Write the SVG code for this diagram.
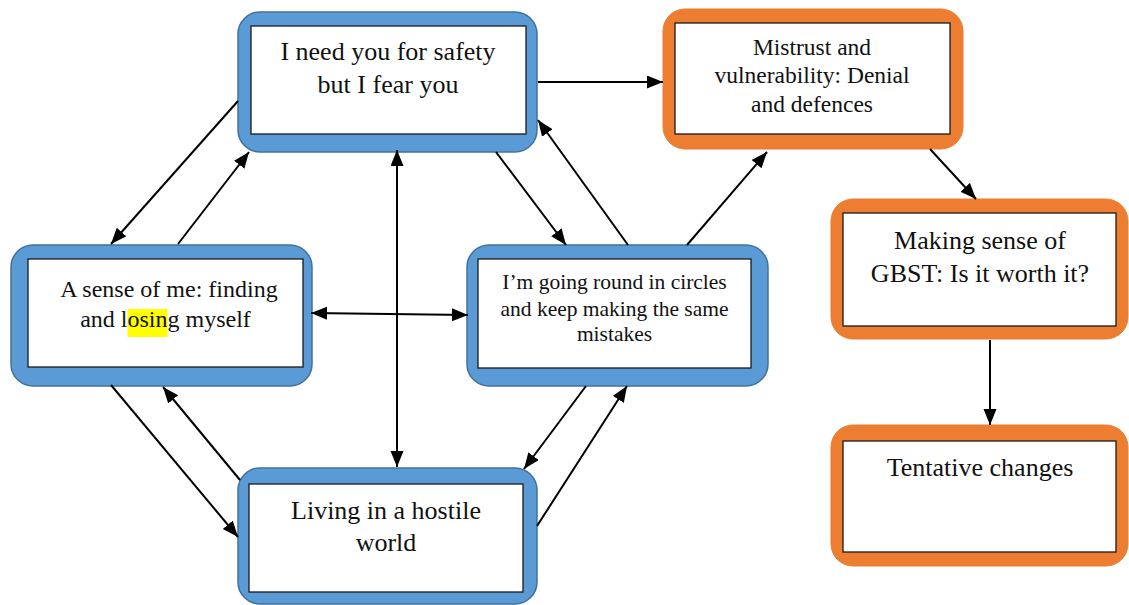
<svg xmlns="http://www.w3.org/2000/svg" width="1129" height="605" viewBox="0 0 1129 605">
  <style>
    .frame-blue { fill: #5B9BD5; stroke: #41719C; stroke-width: 1.5; }
    .frame-orange { fill: #ED7D31; stroke: #ED7D31; stroke-width: 1; }
    .panel { fill: #FFFFFF; stroke: #1A1A1A; stroke-width: 1.3; }
    .label { font-family: "Liberation Serif", "Times New Roman", serif; fill: #111111; text-anchor: middle; }
    .edge { stroke: #000000; stroke-width: 2; fill: none; }
    .one { marker-end: url(#tip); }
    .two { marker-start: url(#tip); marker-end: url(#tip); }
  </style>
  <defs>
    <marker id="tip" markerUnits="userSpaceOnUse" markerWidth="17" markerHeight="14" refX="16" refY="6.5" orient="auto-start-reverse">
      <path d="M0,0 L16,6.5 L0,13 Z" fill="#000000"/>
    </marker>
  </defs>

  <rect width="1129" height="605" fill="#FFFFFF"/>

  <g id="node-safety">
    <rect class="frame-blue" x="238" y="12" width="299" height="140" rx="22"/>
    <rect class="panel" x="251" y="26" width="275" height="108"/>
    <text class="label" font-size="26" x="388" y="60">I need you for safety</text>
    <text class="label" font-size="26" x="388" y="93">but I fear you</text>
  </g>

  <g id="node-sense-of-me">
    <rect class="frame-blue" x="11" y="245" width="301" height="141" rx="22"/>
    <rect class="panel" x="28" y="259" width="275" height="108"/>
    <rect x="127.5" y="309" width="40" height="28" fill="#FFFF00"/>
    <text class="label" font-size="24" x="169" y="297">A sense of me: finding</text>
    <text class="label" font-size="24" x="165.5" y="327">and losing myself</text>
  </g>

  <g id="node-circles">
    <rect class="frame-blue" x="467" y="245" width="301" height="141" rx="22"/>
    <rect class="panel" x="478" y="259" width="273" height="109"/>
    <text class="label" font-size="21.5" x="614.5" y="289">I’m going round in circles</text>
    <text class="label" font-size="21.5" x="614.5" y="316">and keep making the same</text>
    <text class="label" font-size="21.5" x="614.5" y="341">mistakes</text>
  </g>

  <g id="node-hostile-world">
    <rect class="frame-blue" x="238" y="468" width="299" height="136" rx="22"/>
    <rect class="panel" x="249" y="484" width="274" height="108"/>
    <text class="label" font-size="26" x="386" y="519">Living in a hostile</text>
    <text class="label" font-size="26" x="386" y="551">world</text>
  </g>

  <g id="node-mistrust">
    <rect class="frame-orange" x="663" y="9" width="300" height="140" rx="22"/>
    <rect class="panel" x="675" y="23" width="275" height="111"/>
    <text class="label" font-size="23.5" x="812" y="55">Mistrust and</text>
    <text class="label" font-size="23.5" x="812" y="83">vulnerability: Denial</text>
    <text class="label" font-size="23.5" x="812" y="112">and defences</text>
  </g>

  <g id="node-making-sense">
    <rect class="frame-orange" x="831" y="199" width="297" height="140" rx="22"/>
    <rect class="panel" x="843" y="213" width="273" height="113"/>
    <text class="label" font-size="26" x="980" y="249">Making sense of</text>
    <text class="label" font-size="26" x="980" y="282">GBST: Is it worth it?</text>
  </g>

  <g id="node-tentative">
    <rect class="frame-orange" x="831" y="425" width="297" height="141" rx="22"/>
    <rect class="panel" x="843" y="441" width="273" height="111"/>
    <text class="label" font-size="26" x="980" y="476">Tentative changes</text>
  </g>

  <g id="connectors">
    <line class="edge one" x1="538" y1="82" x2="663" y2="82"/>
    <line class="edge one" x1="238" y1="101" x2="111" y2="244"/>
    <line class="edge one" x1="178" y1="244" x2="249" y2="152"/>
    <line class="edge one" x1="496" y1="152" x2="566" y2="245"/>
    <line class="edge one" x1="628" y1="245" x2="538" y2="120"/>
    <line class="edge one" x1="687" y1="245" x2="767" y2="152"/>
    <line class="edge one" x1="930" y1="149" x2="976" y2="199"/>
    <line class="edge one" x1="990" y1="340" x2="990" y2="425"/>
    <line class="edge two" x1="397" y1="150" x2="397" y2="467"/>
    <line class="edge two" x1="311" y1="313" x2="468" y2="315"/>
    <line class="edge one" x1="111" y1="385" x2="238" y2="537"/>
    <line class="edge one" x1="240" y1="480" x2="163" y2="387"/>
    <line class="edge one" x1="586" y1="386" x2="524" y2="469"/>
    <line class="edge one" x1="537" y1="526" x2="627" y2="386"/>
  </g>
</svg>
